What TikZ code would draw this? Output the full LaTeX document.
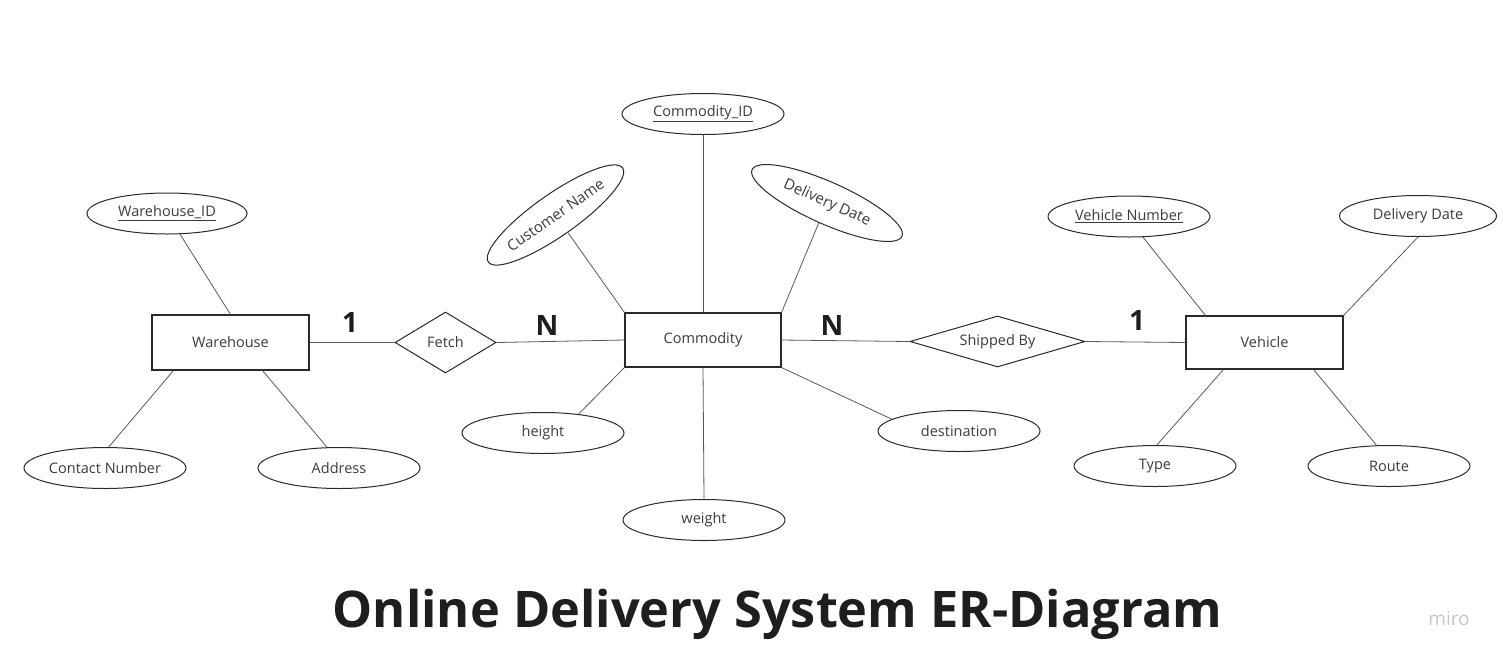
\documentclass[tikz,border=0pt]{standalone}
\usepackage{fontspec}
\setmainfont{Open Sans}
\usetikzlibrary{shapes.geometric,calc}
\definecolor{txt}{HTML}{3C3C3C}
\definecolor{edge}{HTML}{5A5A5A}
\definecolor{shp}{HTML}{2A2A2A}
\definecolor{title}{HTML}{1E1E1E}
\definecolor{miro}{HTML}{C4C6CC}
\tikzset{
  ent/.style={draw=shp, line width=1.1pt, rectangle, minimum width=157pt, minimum height=55pt, inner sep=0pt, text=txt, font=\fontsize{14.5}{16}\selectfont},
  att/.style={draw=shp, line width=1pt, ellipse, minimum width=162pt, minimum height=41pt, inner sep=0pt, text=txt, font=\fontsize{14.5}{16}\selectfont},
  rel/.style={draw=shp, line width=1pt, diamond, inner sep=0pt, text=txt, font=\fontsize{14.5}{16}\selectfont},
  conn/.style={draw=edge, line width=0.8pt},
  card/.style={text=title, font=\fontsize{28}{30}\selectfont\bfseries, inner sep=0pt}
}
\begin{document}
\begin{tikzpicture}[x=1pt,y=-1pt]
\useasboundingbox[fill=white] (0,0) rectangle (1509,662);
% entities
\node[ent] (wh) at (230.5,342.5) {Warehouse};
\node[ent, minimum height=54pt, minimum width=156pt] (com) at (703,340) {Commodity};
\node[ent, minimum height=53pt] (veh) at (1264.5,342.5) {Vehicle};
% relationships
\node[rel, minimum width=101pt, minimum height=61pt] (fe) at (445.5,342.5) {Fetch};
\node[rel, minimum width=175pt, minimum height=51pt, aspect=3.4] (sb) at (997.5,341.5) {Shipped By};
% warehouse attributes
\node[att, minimum width=160pt] (wid) at (167,213.5) {\underline{Warehouse\_ID}};
\node[att] (cn) at (105,468) {Contact Number};
\node[att] (ad) at (339,468) {Address};
% commodity attributes
\node[att] (cid) at (703,114) {\underline{Commodity\_ID}};
\node[att, rotate=35, minimum width=164pt, minimum height=42pt, font=\fontsize{15}{16}\selectfont] (cname) at (555.5,215) {Customer Name};
\node[att, rotate=-24, minimum width=164pt, minimum height=42pt, font=\fontsize{15}{16}\selectfont] (ddate) at (827,203) {Delivery Date};
\node[att] (ht) at (543,433) {height};
\node[att] (wt) at (704,520) {weight};
\node[att] (dest) at (959,431) {destination};
% vehicle attributes
\node[att] (vn) at (1129,216.5) {\underline{Vehicle Number}};
\node[att, minimum width=157pt] (vdd) at (1418,216) {Delivery Date};
\node[att] (ty) at (1155,466) {Type};
\node[att] (rt) at (1389,466) {Route};
% connectors
\draw[conn] (wid) -- (wh.north);
\draw[conn] (cn.80) -- ($(wh.south west)+(22,0)$);
\draw[conn] (ad.120) -- ($(wh.south east)+(-47,0)$);
\draw[conn] (wh.east) -- (fe.west);
\draw[conn] (fe.east) -- (com.west);
\draw[conn] (cid.south) -- (com.north);
\draw[conn] (cname) -- (com.north west);
\draw[conn] (ddate) -- (com.north east);
\draw[conn] (ht.28) -- (com.south west);
\draw[conn] (wt.north) -- (com.south);
\draw[conn] (dest.170) -- (com.south east);
\draw[conn] (com.east) -- (sb.west);
\draw[conn] (sb.east) -- (veh.west);
\draw[conn] (vn.-56) -- ($(veh.north west)+(20,0)$);
\draw[conn] (vdd.south) -- (veh.north east);
\draw[conn] (ty.85) -- ($(veh.south west)+(38,0)$);
\draw[conn] (rt.121) -- ($(veh.south east)+(-30,0)$);
% cardinalities
\node[card] (c1) at (350,322) {1};
\node[card] (c2) at (547,325) {N};
\node[card] (c3) at (832,325) {N};
\node[card] (c4) at (1137,320) {1};
% title
\node[text=title, font=\fontsize{50.5}{52}\selectfont\bfseries, inner sep=0pt, anchor=base] (ttl) at (777.5,627) {Online Delivery System ER-Diagram};
\node[text=miro, font=\fontsize{19}{20}\selectfont, inner sep=0pt] (mr) at (1449,619) {miro};
\end{tikzpicture}
\end{document}
